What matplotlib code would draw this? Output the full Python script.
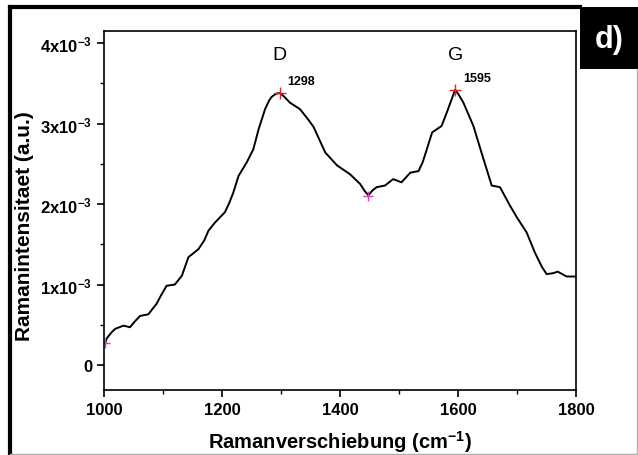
import matplotlib
matplotlib.use("Agg")
import matplotlib.pyplot as plt
from matplotlib.lines import Line2D
from matplotlib.patches import Rectangle
from matplotlib.ticker import FixedLocator, MultipleLocator

plt.rcParams["font.family"] = ["Liberation Sans", "DejaVu Sans"]
plt.rcParams["mathtext.fontset"] = "custom"
plt.rcParams["mathtext.rm"] = "Liberation Sans"
plt.rcParams["mathtext.bf"] = "Liberation Sans:bold"
plt.rcParams["mathtext.default"] = "bf"

# Raman spectrum (intensity in units of 1e-3)
shift = [1002, 1004.5, 1012, 1019, 1033, 1044, 1052, 1061, 1075, 1089, 1097,
         1106, 1120, 1132, 1143, 1160, 1170, 1177, 1188, 1205, 1212, 1219,
         1228, 1242, 1253, 1262, 1273, 1280, 1284, 1291, 1298, 1306, 1315,
         1332, 1345, 1355, 1365, 1375, 1395, 1417, 1434, 1442, 1448, 1455,
         1462, 1476, 1490, 1504, 1519, 1533, 1540, 1547, 1556, 1572, 1581,
         1589, 1595, 1601, 1609, 1626, 1643, 1657, 1671, 1688, 1700, 1716,
         1730, 1742, 1750, 1760, 1769, 1784, 1800]
intensity = [0.27, 0.33, 0.40, 0.45, 0.49, 0.47, 0.54, 0.61, 0.63, 0.76, 0.87,
             0.985, 1.0, 1.11, 1.34, 1.44, 1.55, 1.67, 1.77, 1.90, 2.01, 2.14,
             2.35, 2.52, 2.68, 2.93, 3.18, 3.29, 3.33, 3.37, 3.38, 3.33, 3.26,
             3.18, 3.06, 2.96, 2.80, 2.64, 2.48, 2.37, 2.25, 2.16, 2.11, 2.17,
             2.21, 2.23, 2.31, 2.27, 2.39, 2.41, 2.52, 2.68, 2.89, 2.97, 3.14,
             3.30, 3.42, 3.36, 3.26, 2.97, 2.56, 2.23, 2.21, 1.98, 1.83, 1.65,
             1.40, 1.22, 1.13, 1.14, 1.16, 1.10, 1.10]

peak_x = [1298, 1595]
peak_y = [3.38, 3.42]
peak_labels = ["1298", "1595"]
band_names = ["D", "G"]
min_x = [1002, 1448]
min_y = [0.27, 2.10]

ytick_vals = [0, 1, 2, 3, 4]
ytick_labels = ["0", r"1x10$^{-3}$", r"2x10$^{-3}$", r"3x10$^{-3}$", r"4x10$^{-3}$"]
xtick_vals = [1000, 1200, 1400, 1600, 1800]

fig = plt.figure(figsize=(6.38, 4.56), dpi=100)
ax = fig.add_axes([0.163, 0.1425, 0.740, 0.7873])

ax.plot(shift, intensity, color="black", linewidth=1.4, solid_joinstyle="round")
ax.plot(peak_x, peak_y, "+", color="#e8202a", markersize=9, markeredgewidth=1.0)
ax.plot(min_x, min_y, "+", color="#d040c0", markersize=7, markeredgewidth=1.0)

for px, py, lab, name in zip(peak_x, peak_y, peak_labels, band_names):
    ax.text(px + 13, py + 0.07, lab, fontsize=9, fontweight="bold", ha="left", va="bottom")
    ax.text(px, 3.86, name, fontsize=14, ha="center", va="center")

ax.set_xlim(1000, 1800)
ax.set_ylim(-0.31, 4.15)
ax.xaxis.set_major_locator(FixedLocator(xtick_vals))
ax.xaxis.set_minor_locator(MultipleLocator(100))
ax.yaxis.set_major_locator(FixedLocator(ytick_vals))
ax.yaxis.set_minor_locator(MultipleLocator(0.5))
ax.set_yticklabels(ytick_labels)
ax.set_xticklabels([str(v) for v in xtick_vals])

ax.tick_params(which="major", direction="out", length=5, width=1.2, labelsize=12)
ax.tick_params(which="minor", direction="out", length=3, width=1.0)
for lab in ax.get_xticklabels() + ax.get_yticklabels():
    lab.set_fontweight("bold")
for sp in ax.spines.values():
    sp.set_linewidth(1.2)

ax.set_xlabel(r"Ramanverschiebung (cm$^{-1}$)", fontsize=14.5, fontweight="bold", labelpad=8)
ax.set_ylabel("Ramanintensitaet (a.u.)", fontsize=15, fontweight="bold")
ax.yaxis.set_label_coords(-0.148, 0.46)

# outer frame and panel tag
W, H = 638.0, 456.0
fig.add_artist(Line2D([10 / W, 10 / W], [0, 1 - 8 / H], color="black", linewidth=3, transform=fig.transFigure))
fig.add_artist(Line2D([10 / W, 580 / W], [1 - 8 / H, 1 - 8 / H], color="black", linewidth=3, transform=fig.transFigure))
fig.add_artist(Line2D([10 / W, 637 / W], [1.5 / H, 1.5 / H], color="#b0b0b0", linewidth=1, transform=fig.transFigure))
fig.add_artist(Line2D([637 / W, 637 / W], [1.5 / H, 1 - 70 / H], color="#b0b0b0", linewidth=1, transform=fig.transFigure))
fig.add_artist(Rectangle((580 / W, 1 - 70 / H), 58 / W, 62 / H, facecolor="black", edgecolor="none",
                         transform=fig.transFigure))
fig.text(609 / W, 1 - 40 / H, "d)", color="white", fontsize=22, fontweight="bold", ha="center", va="center")

fig.savefig("out.png", dpi=100)
